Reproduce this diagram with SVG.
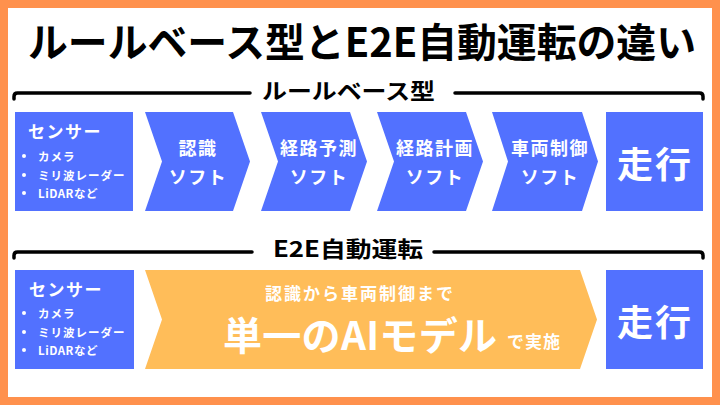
<svg xmlns="http://www.w3.org/2000/svg" width="720" height="405" viewBox="0 0 720 405">
<defs>
<style>
.t{font-family:"Noto Sans CJK JP","Noto Sans",sans-serif;font-weight:700}
.w{fill:#FFFFFF}
.k{fill:#000000}
.blue{fill:#5271FF}
.org{fill:#FFBD59}
.br{fill:none;stroke:#000;stroke-width:3.5;stroke-linecap:round;stroke-linejoin:round}
.mid{text-anchor:middle}
</style>
</defs>
<rect x="0" y="0" width="720" height="405" fill="#FF914D"/>
<rect x="8" y="8" width="704" height="389" fill="#FFFFFF"/>
<text id="title" class="t k mid" x="362" y="57" font-size="40" textLength="668" lengthAdjust="spacingAndGlyphs">ルールベース型とE2E自動運転の違い</text>

<g id="connectors">
<path class="br" d="M14,99 V96.5 Q14,93 17.5,93 H250"/>
<path class="br" d="M455,93 H699.5 Q703,93 703,96.5 V99"/>
<path class="br" d="M14,258 V255.5 Q14,252 17.5,252 H252"/>
<path class="br" d="M434,252 H699.5 Q703,252 703,255.5 V258"/>
</g>

<g id="header-rule">
<text class="t k" x="262" y="99" font-size="22" textLength="173" lengthAdjust="spacingAndGlyphs">ルールベース型</text>
</g>
<g id="header-e2e">
<text class="t k" x="273" y="257" font-size="22" textLength="150" lengthAdjust="spacingAndGlyphs">E2E自動運転</text>
</g>

<g id="sensor1">
<rect class="blue" x="15" y="112" width="118" height="99"/>
<text class="t w" x="28" y="138" font-size="17" letter-spacing="1.5">センサー</text>
<circle class="w" cx="24" cy="156" r="2"/>
<circle class="w" cx="24" cy="175" r="2"/>
<circle class="w" cx="24" cy="193" r="2"/>
<text class="t w" x="38" y="160.5" font-size="11.5" letter-spacing="1">カメラ</text>
<text class="t w" x="38" y="179.5" font-size="11.5" letter-spacing="1">ミリ波レーダー</text>
<text class="t w" x="38" y="197.5" font-size="11.5" letter-spacing="0.5">LiDARなど</text>
</g>

<g id="recog">
<polygon class="blue" points="145,112 233,112 250,161.5 233,211 145,211 162,161.5"/>
<text class="t w mid" x="198" y="155" font-size="18" letter-spacing="1.5">認識</text>
<text class="t w mid" x="198" y="184" font-size="18" letter-spacing="1.5">ソフト</text>
</g>
<g id="predict">
<polygon class="blue" points="261,112 350,112 367,161.5 350,211 261,211 278,161.5"/>
<text class="t w mid" x="319" y="155" font-size="18" letter-spacing="1.5">経路予測</text>
<text class="t w mid" x="319" y="184" font-size="18" letter-spacing="1.5">ソフト</text>
</g>
<g id="plan">
<polygon class="blue" points="377,112 466,112 483,161.5 466,211 377,211 394,161.5"/>
<text class="t w mid" x="435" y="155" font-size="18" letter-spacing="1.5">経路計画</text>
<text class="t w mid" x="435" y="184" font-size="18" letter-spacing="1.5">ソフト</text>
</g>
<g id="control">
<polygon class="blue" points="492,112 582,112 598,161.5 582,211 492,211 508,161.5"/>
<text class="t w mid" x="550" y="155" font-size="18" letter-spacing="1.5">車両制御</text>
<text class="t w mid" x="550" y="184" font-size="18" letter-spacing="1.5">ソフト</text>
</g>
<g id="drive1">
<rect class="blue" x="606" y="112" width="97" height="99"/>
<text class="t w mid" x="655" y="178" font-size="36" letter-spacing="2">走行</text>
</g>

<g id="sensor2">
<rect class="blue" x="15" y="270" width="119" height="99"/>
<text class="t w" x="29" y="296" font-size="17" letter-spacing="1.5">センサー</text>
<circle class="w" cx="24" cy="313" r="2"/>
<circle class="w" cx="24" cy="332" r="2"/>
<circle class="w" cx="24" cy="350" r="2"/>
<text class="t w" x="38" y="317.5" font-size="11.5" letter-spacing="1">カメラ</text>
<text class="t w" x="38" y="336.5" font-size="11.5" letter-spacing="1">ミリ波レーダー</text>
<text class="t w" x="38" y="354.5" font-size="11.5" letter-spacing="0.5">LiDARなど</text>
</g>

<g id="e2e-model">
<polygon class="org" points="145,270 580,270 597,319.5 580,369 145,369 162,319.5"/>
<text class="t w mid" x="360" y="300" font-size="17" letter-spacing="2">認識から車両制御まで</text>
<text class="t w" x="223" y="350" font-size="39" textLength="274">単一のAIモデル</text>
<text class="t w" x="507" y="348" font-size="17" letter-spacing="1">で実施</text>
</g>

<g id="drive2">
<rect class="blue" x="606" y="270" width="97" height="99"/>
<text class="t w mid" x="655" y="336" font-size="36" letter-spacing="2">走行</text>
</g>
</svg>
